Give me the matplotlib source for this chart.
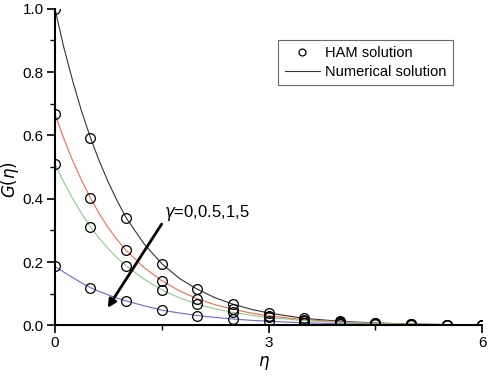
import matplotlib
matplotlib.use("Agg")
import matplotlib.pyplot as plt
from matplotlib.ticker import MultipleLocator

plt.rcParams['font.family'] = ['Liberation Sans', 'DejaVu Sans']

# HAM solution points
eta_ham = [0, 0.5, 1, 1.5, 2, 2.5, 3, 3.5, 4, 4.5, 5, 5.5, 6]
ham_g0 = [1.0, 0.592, 0.340, 0.195, 0.114, 0.067, 0.039, 0.022, 0.013, 0.0075, 0.0043, 0.0025, 0.0014]
ham_g05 = [0.668, 0.402, 0.237, 0.141, 0.084, 0.051, 0.030, 0.018, 0.011, 0.0065, 0.004, 0.0023, 0.0014]
ham_g1 = [0.510, 0.311, 0.188, 0.112, 0.067, 0.041, 0.025, 0.015, 0.009, 0.0056, 0.0034, 0.002, 0.0012]
ham_g5 = [0.186, 0.119, 0.077, 0.048, 0.031, 0.020, 0.013, 0.008, 0.005, 0.003, 0.002, 0.0012, 0.0008]

# numerical solution curves
eta_num = [0, 0.125, 0.25, 0.375, 0.5, 0.625, 0.75, 0.875, 1, 1.25, 1.5, 1.75, 2, 2.25, 2.5,
           2.75, 3, 3.5, 4, 4.5, 5, 5.5, 6]
num_g0 = [1.0, 0.878, 0.772, 0.676, 0.592, 0.518, 0.452, 0.393, 0.340, 0.258, 0.195, 0.148,
          0.114, 0.087, 0.067, 0.051, 0.039, 0.022, 0.013, 0.0075, 0.0043, 0.0025, 0.0014]
num_g05 = [0.668, 0.59, 0.52, 0.458, 0.402, 0.352, 0.308, 0.270, 0.237, 0.183, 0.141, 0.109,
           0.084, 0.065, 0.051, 0.039, 0.030, 0.018, 0.011, 0.0065, 0.004, 0.0023, 0.0014]
num_g1 = [0.510, 0.452, 0.40, 0.353, 0.311, 0.274, 0.242, 0.213, 0.188, 0.146, 0.112, 0.087,
          0.067, 0.052, 0.041, 0.032, 0.025, 0.015, 0.009, 0.0056, 0.0034, 0.002, 0.0012]
num_g5 = [0.186, 0.168, 0.151, 0.134, 0.119, 0.107, 0.096, 0.086, 0.077, 0.062, 0.048, 0.039,
          0.031, 0.025, 0.020, 0.016, 0.013, 0.008, 0.005, 0.003, 0.002, 0.0012, 0.0008]

colors = ['#333333', '#f26a4f', '#8ccb8c', '#6a6ac8']

fig = plt.figure(figsize=(4.9, 3.77), dpi=100)
ax = fig.add_axes([0.112, 0.137, 0.872, 0.84])

for num, c in zip([num_g0, num_g05, num_g1, num_g5], colors):
    ax.plot(eta_num, num, color=c, lw=0.8)
for ham in [ham_g0, ham_g05, ham_g1, ham_g5]:
    ax.plot(eta_ham, ham, 'o', mfc='none', mec='black', ms=7, mew=0.9)

# legend proxies
ax.plot([], [], 'o', mfc='none', mec='black', ms=5, mew=0.9, label='HAM solution')
ax.plot([], [], color='#333333', lw=0.8, label='Numerical solution')
leg = ax.legend(loc='upper left', bbox_to_anchor=(0.505, 0.925), frameon=True,
                fancybox=False, fontsize=10.5, handlelength=2.4, handletextpad=0.35,
                borderpad=0.45, labelspacing=0.3)
leg.get_frame().set_edgecolor('#444444')
leg.get_frame().set_linewidth(0.8)

ax.annotate('', xy=(0.72, 0.048), xytext=(1.52, 0.327),
            arrowprops=dict(arrowstyle='-|>', color='black', lw=2, mutation_scale=12))
ax.text(1.53, 0.354, r'$\gamma$=0,0.5,1,5', fontsize=12, va='center', ha='left')

ax.set_xlim(0, 6)
ax.set_ylim(0, 1.0)
ax.xaxis.set_major_locator(MultipleLocator(3))
ax.xaxis.set_minor_locator(MultipleLocator(1.5))
ax.yaxis.set_major_locator(MultipleLocator(0.2))
ax.yaxis.set_minor_locator(MultipleLocator(0.1))
ax.yaxis.set_major_formatter(plt.FormatStrFormatter('%.1f'))
ax.tick_params(which='major', direction='out', length=6, width=1.2, labelsize=11, pad=2)
ax.tick_params(which='minor', direction='out', length=3.5, width=1.0)

for s in ['top', 'right']:
    ax.spines[s].set_visible(False)
for s in ['left', 'bottom']:
    ax.spines[s].set_linewidth(1.5)

ax.set_xlabel(r'$\eta$', fontsize=12)
ax.set_ylabel(r'$G(\eta)$', fontsize=12)
ax.xaxis.set_label_coords(0.49, -0.09)
ax.yaxis.set_label_coords(-0.08, 0.46)

fig.savefig('out.png', dpi=100)
